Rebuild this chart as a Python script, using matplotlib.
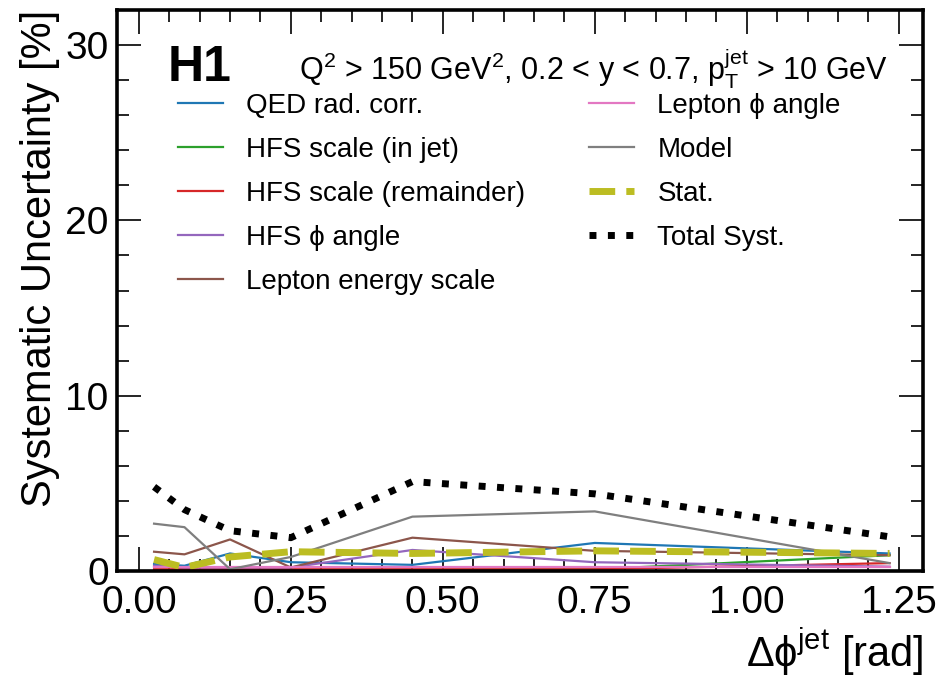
import numpy as np
import matplotlib
matplotlib.use("Agg")
import matplotlib.pyplot as plt
from matplotlib.ticker import MultipleLocator

plt.rcParams['font.family'] = ['Liberation Sans', 'DejaVu Sans']
plt.rcParams['mathtext.fontset'] = 'custom'
plt.rcParams['mathtext.rm'] = 'Liberation Sans'
plt.rcParams['mathtext.it'] = 'Liberation Sans'
plt.rcParams['mathtext.bf'] = 'Liberation Sans:bold'

# bin centres in delta phi (rad)
dphi = [0.025, 0.075, 0.15, 0.25, 0.45, 0.75, 1.235]

# systematic uncertainty per source [%]
qed_rad = [0.4, 0.3, 1.0, 0.5, 0.35, 1.6, 1.0]
hfs_jet = [0.05, 0.05, 0.05, 0.05, 0.05, 0.1, 0.9]
hfs_rem = [0.1, 0.1, 0.1, 0.1, 0.1, 0.1, 0.45]
hfs_phi = [0.3, 0.2, 0.2, 0.2, 1.2, 0.5, 0.25]
lep_energy = [1.1, 0.95, 1.8, 0.2, 1.9, 1.15, 0.9]
lep_phi = [0.2, 0.2, 0.2, 0.2, 0.2, 0.2, 0.2]
model = [2.7, 2.5, 0.1, 0.8, 3.1, 3.4, 0.45]
stat = [0.65, 0.2, 0.8, 1.1, 1.0, 1.15, 1.0]
total_syst = [4.8, 3.5, 2.3, 1.9, 5.1, 4.4, 1.95]

fig, ax = plt.subplots(figsize=(9.43, 6.77), dpi=100)
fig.subplots_adjust(left=117/943, right=923/943, top=1-10/677, bottom=1-571/677)

ax.plot(dphi, qed_rad, color='#1f77b4', lw=1.6, label='QED rad. corr.')
ax.plot(dphi, hfs_jet, color='#2ca02c', lw=1.6, label='HFS scale (in jet)')
ax.plot(dphi, hfs_rem, color='#d62728', lw=1.6, label='HFS scale (remainder)')
ax.plot(dphi, hfs_phi, color='#9467bd', lw=1.6, label='HFS ϕ angle')
ax.plot(dphi, lep_energy, color='#8c564b', lw=1.6, label='Lepton energy scale')
ax.plot(dphi, lep_phi, color='#e377c2', lw=1.6, label='Lepton ϕ angle')
ax.plot(dphi, model, color='#7f7f7f', lw=1.6, label='Model')
ax.plot(dphi, stat, color='#bcbd22', lw=5, ls='--', label='Stat.')
ax.plot(dphi, total_syst, color='black', lw=5, ls=':', label='Total Syst.')

ax.set_xlim(-0.036, 1.29)
ax.set_ylim(0, 32)
ax.xaxis.set_major_locator(MultipleLocator(0.25))
ax.xaxis.set_minor_locator(MultipleLocator(0.05))
ax.yaxis.set_major_locator(MultipleLocator(10))
ax.yaxis.set_minor_locator(MultipleLocator(2))
ax.xaxis.set_major_formatter(matplotlib.ticker.FormatStrFormatter('%.2f'))

ax.tick_params(which='both', direction='in', top=True, right=True, labelsize=28, width=1.2)
ax.tick_params(which='major', length=17)
ax.tick_params(which='minor', length=8.5)
ax.tick_params(axis='x', pad=10)
ax.tick_params(axis='y', pad=6)
for s in ax.spines.values():
    s.set_linewidth(2.6)

ax.set_ylabel('Systematic Uncertainty [%]', fontsize=30, loc='top')
ax.set_xlabel(r'Δϕ$^\mathrm{jet}$ [rad]', fontsize=30, loc='right')

ax.text(0.063, 0.937, 'H1', transform=ax.transAxes, fontsize=36, fontweight='bold', va='top')
ax.text(0.957, 0.935, r'Q$^2$ > 150 GeV$^2$, 0.2 < y < 0.7, p$_\mathrm{T}^\mathrm{jet}$ > 10 GeV',
        transform=ax.transAxes, fontsize=22, ha='right', va='top')

ax.legend(ncol=2, loc='upper left', bbox_to_anchor=(0.045, 0.897), frameon=False, fontsize=20,
          handlelength=1.6, handletextpad=0.85, columnspacing=2.3, labelspacing=0.65)

fig.savefig('out.png', dpi=100)
